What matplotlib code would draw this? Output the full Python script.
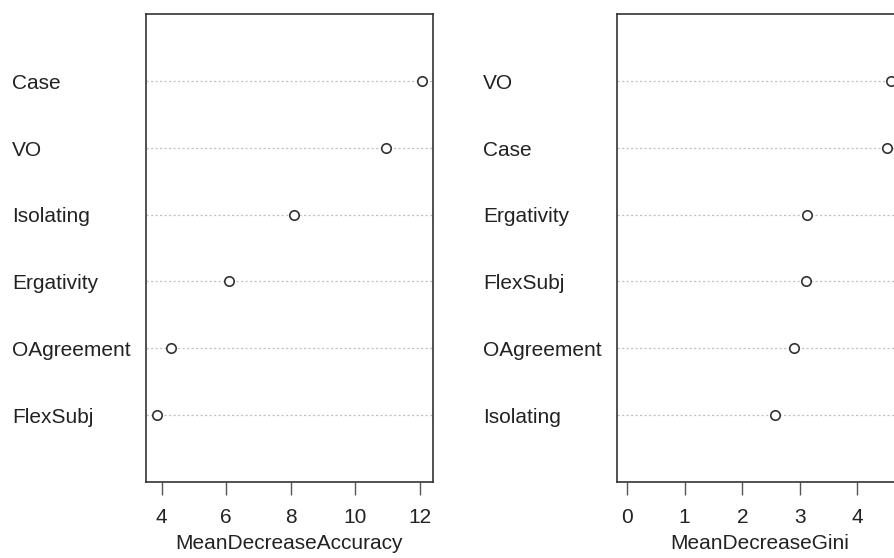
import matplotlib
matplotlib.use("Agg")
import matplotlib.pyplot as plt
import matplotlib.transforms as mtransforms
import numpy as np

plt.rcParams['font.family'] = ['Liberation Sans', 'DejaVu Sans']

# variable importance, bottom row first (as drawn by dotchart)
acc_vars = ["FlexSubj", "OAgreement", "Ergativity", "Isolating", "VO", "Case"]
acc_vals = [3.84, 4.29, 6.10, 8.09, 10.96, 12.08]

gini_vars = ["Isolating", "OAgreement", "FlexSubj", "Ergativity", "Case", "VO"]
gini_vals = [2.57, 2.89, 3.11, 3.13, 4.51, 4.59]

acc_ticks = [4, 6, 8, 10, 12]
gini_ticks = [0, 1, 2, 3, 4]

fig = plt.figure(figsize=(8.94, 5.58), dpi=100)
W, H = 894.0, 558.0
top, bottom = 14, 482
fs = 15


def dotpanel(left_px, right_px, label_px, names, vals, xmin, ticks, xlabel):
    ax = fig.add_axes([left_px / W, 1 - bottom / H,
                       (right_px - left_px) / W, (bottom - top) / H])
    n = len(vals)
    y = np.arange(1, n + 1)
    lo, hi = xmin, max(vals)
    pad = 0.04 * (hi - lo)
    ax.set_xlim(lo - pad, hi + pad)
    ax.set_ylim(0, n + 1)
    for yi in y:
        ax.axhline(yi, color="#c4c4c4", lw=0.9, ls=(0, (1.8, 1.8)), zorder=1)
    ax.plot(vals, y, "o", mfc="white", mec="#333333", mew=1.2, ms=6.8, zorder=3)
    ax.set_yticks([])
    ax.set_xticks(ticks)
    ax.tick_params(axis="x", length=9, width=1.0, color="#555555",
                   labelsize=fs, pad=10, labelcolor="#222222")
    ax.set_xlabel(xlabel, fontsize=fs, color="#222222", labelpad=5)
    for s in ax.spines.values():
        s.set_linewidth(1.2)
        s.set_color("#333333")
    # row labels sit in the left margin, left-aligned
    trans = mtransforms.blended_transform_factory(fig.transFigure, ax.transData)
    for nm, yi in zip(names, y):
        ax.text(label_px / W, yi - 0.035, nm, transform=trans,
                ha="left", va="center", fontsize=fs, color="#222222")
    return ax


dotpanel(146, 432.7, 12, acc_vars, acc_vals, min(acc_vals), acc_ticks,
         "MeanDecreaseAccuracy")
dotpanel(616.5, 902, 483, gini_vars, gini_vals, 0, gini_ticks,
         "MeanDecreaseGini")

fig.savefig("out.png", dpi=100)
